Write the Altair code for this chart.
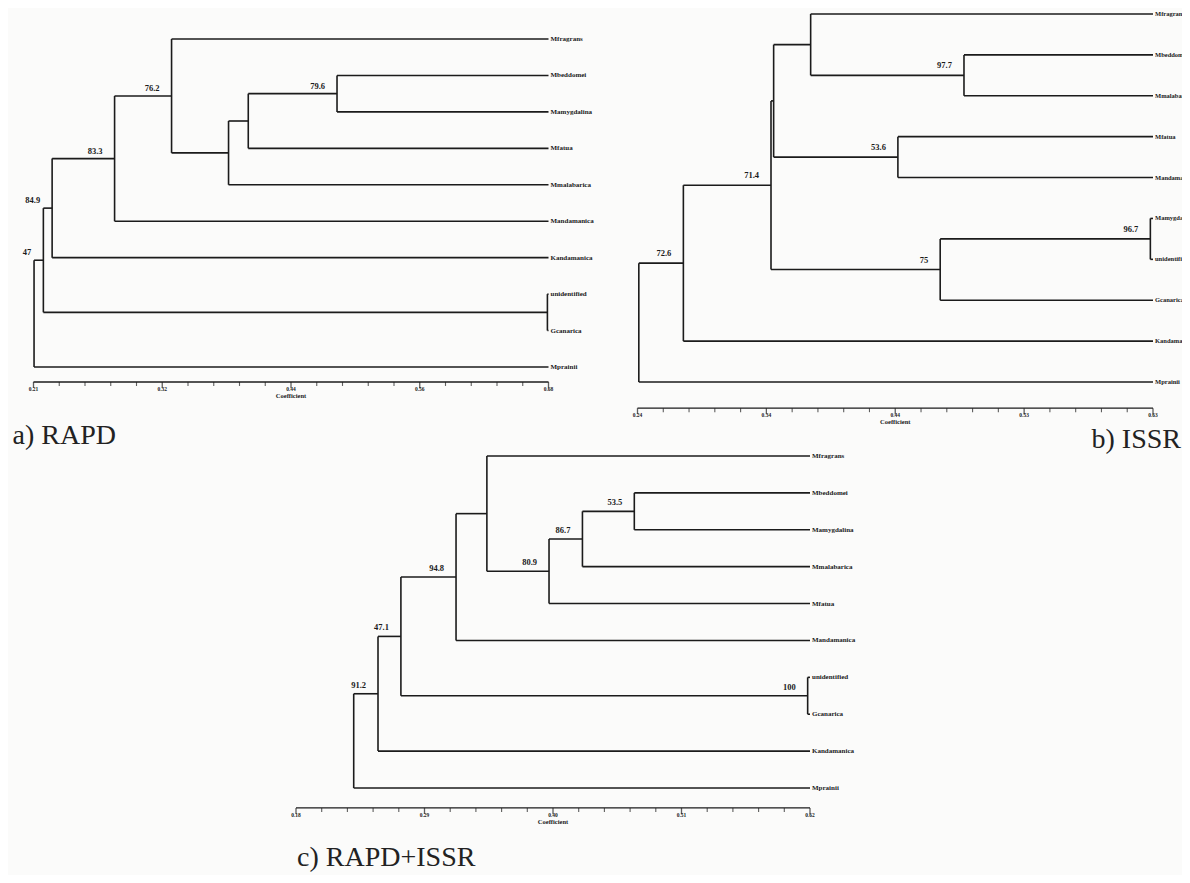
import altair as alt
import pandas as pd
import numpy as np

# ---------------- a) RAPD ----------------
a_leaves = ["Mfragrans", "Mbeddomei", "Mamygdalina", "Mfatua", "Mmalabarica",
            "Mandamanica", "Kandamanica", "unidentified", "Gcanarica", "Mprainii"]
a_left = ["Mbeddomei", "n1", "n2", "Mfragrans", "n4", "n5", "unidentified", "n6", "n8"]
a_right = ["Mamygdalina", "Mfatua", "Mmalabarica", "n3", "Mandamanica", "Kandamanica",
           "Gcanarica", "n7", "Mprainii"]
a_coef = [0.487, 0.406, 0.388, 0.336, 0.284, 0.227, 0.679, 0.219, 0.2105]
a_boot = ["79.6", "", "", "76.2", "83.3", "84.9", "", "47", ""]
a_ticks = [0.21, 0.3275, 0.445, 0.5625, 0.68]
a_tick_labels = ["0.21", "0.32", "0.44", "0.56", "0.68"]

# ---------------- b) ISSR ----------------
b_leaves = ["Mfragrans", "Mbeddomei", "Mmalabarica", "Mfatua", "Mandamanica",
            "Mamygdalina", "unidentified", "Gcanarica", "Kandamanica", "Mprainii"]
b_left = ["Mbeddomei", "Mfragrans", "Mfatua", "n2", "Mamygdalina", "n5", "n4", "n7", "n8"]
b_right = ["Mmalabarica", "n1", "Mandamanica", "n3", "unidentified", "Gcanarica", "n6",
           "Kandamanica", "Mprainii"]
b_coef = [0.487, 0.371, 0.437, 0.343, 0.628, 0.469, 0.341, 0.2747, 0.241]
b_boot = ["97.7", "", "53.6", "", "96.7", "75", "71.4", "72.6", ""]
b_ticks = [0.24, 0.3375, 0.435, 0.5325, 0.63]
b_tick_labels = ["0.24", "0.34", "0.44", "0.53", "0.63"]

# ---------------- c) RAPD+ISSR ----------------
c_leaves = ["Mfragrans", "Mbeddomei", "Mamygdalina", "Mmalabarica", "Mfatua",
            "Mandamanica", "unidentified", "Gcanarica", "Kandamanica", "Mprainii"]
c_left = ["Mbeddomei", "n1", "n2", "Mfragrans", "n4", "unidentified", "n5", "n7", "n8"]
c_right = ["Mamygdalina", "Mmalabarica", "Mfatua", "n3", "Mandamanica", "Gcanarica", "n6",
           "Kandamanica", "Mprainii"]
c_coef = [0.4696, 0.4252, 0.3966, 0.3434, 0.317, 0.618, 0.2698, 0.2502, 0.2294]
c_boot = ["53.5", "86.7", "80.9", "", "94.8", "100", "47.1", "91.2", ""]
c_ticks = [0.18, 0.29, 0.40, 0.51, 0.62]
c_tick_labels = ["0.18", "0.29", "0.40", "0.51", "0.62"]

captions = ["a) RAPD", "b) ISSR", "c) RAPD+ISSR"]
axis_title = "Coefficient"

LINE = "#1b1b1b"
SERIF = "Liberation Serif"


def panel(leaves, left, right, coef, boot, ticks, tick_labels, caption,
          xrange, yrange, axis_level, boot_dy, leaf_size, cap_anchor, cap_dx, cap_dy, cap_align):
    xmax = ticks[-1]
    pos = {name: (xmax, float(i)) for i, name in enumerate(leaves)}
    segs, nodes = [], []
    for k, (l, r, c, b) in enumerate(zip(left, right, coef, boot)):
        xl, yl = pos[l]
        xr, yr = pos[r]
        ym = (yl + yr) / 2
        pos[f"n{k + 1}"] = (c, ym)
        segs.append(dict(x=c, x2=c, y=yl, y2=yr))
        segs.append(dict(x=c, x2=xl, y=yl, y2=yl))
        segs.append(dict(x=c, x2=xr, y=yr, y2=yr))
        nodes.append(dict(x=c, y=ym, label=b))
    seg_df = pd.DataFrame(segs)
    node_df = pd.DataFrame(nodes)
    leaf_df = pd.DataFrame(dict(x=[xmax] * len(leaves), y=list(range(len(leaves))), label=leaves))
    maj_df = pd.DataFrame(dict(x=ticks, y=[axis_level] * len(ticks), label=tick_labels))
    minor = []
    for t0, t1 in zip(ticks[:-1], ticks[1:]):
        minor += list(np.linspace(t0, t1, 6)[1:-1])
    min_df = pd.DataFrame(dict(x=minor, y=[axis_level] * len(minor)))
    axl_df = pd.DataFrame(dict(x=[ticks[0]], x2=[ticks[-1]], y=[axis_level], y2=[axis_level]))
    mid = ticks[len(ticks) // 2]
    title_df = pd.DataFrame(dict(x=[mid], y=[axis_level], label=[axis_title]))
    cap_df = pd.DataFrame(dict(x=[cap_anchor], y=[axis_level], label=[caption]))

    xs = alt.Scale(domain=[ticks[0], ticks[-1]], range=xrange, nice=False, zero=False)
    ys = alt.Scale(domain=[0, len(leaves) - 1], range=yrange, nice=False, zero=False)
    X = alt.X("x:Q", scale=xs, axis=None)
    Y = alt.Y("y:Q", scale=ys, axis=None)

    rules = alt.Chart(seg_df).mark_rule(color=LINE, strokeWidth=1.6).encode(
        x=X, x2="x2:Q", y=Y, y2="y2:Q")
    leaf_txt = alt.Chart(leaf_df).mark_text(
        align="left", baseline="middle", dx=2, font=SERIF, fontSize=leaf_size,
        fontWeight="bold", color="#1a1a1a").encode(x=X, y=Y, text="label:N")
    boot_txt = alt.Chart(node_df).mark_text(
        align="right", baseline="alphabetic", dx=-12, dy=boot_dy, font=SERIF, fontSize=8.5,
        fontWeight="bold", color="#1a1a1a").encode(x=X, y=Y, text="label:N")
    axis_line = alt.Chart(axl_df).mark_rule(color=LINE, strokeWidth=1.4).encode(
        x=X, x2="x2:Q", y=Y, y2="y2:Q")
    maj_ticks = alt.Chart(maj_df).mark_tick(
        orient="vertical", size=6, thickness=1.3, yOffset=3, color=LINE).encode(x=X, y=Y)
    min_ticks = alt.Chart(min_df).mark_tick(
        orient="vertical", size=4, thickness=1.1, yOffset=2, color=LINE).encode(x=X, y=Y)
    tick_txt = alt.Chart(maj_df).mark_text(
        baseline="top", dy=5, font=SERIF, fontSize=5.5, fontWeight="bold",
        color="#1a1a1a").encode(x=X, y=Y, text="label:N")
    title_txt = alt.Chart(title_df).mark_text(
        baseline="top", dy=11, font=SERIF, fontSize=6.5, fontWeight="bold",
        color="#1a1a1a").encode(x=X, y=Y, text="label:N")
    cap_txt = alt.Chart(cap_df).mark_text(
        align=cap_align, baseline="middle", dx=cap_dx, dy=cap_dy, font=SERIF,
        fontSize=28, color="#222222").encode(x=X, y=Y, text="label:N")
    return alt.layer(rules, leaf_txt, boot_txt, axis_line, maj_ticks, min_ticks,
                     tick_txt, title_txt, cap_txt)


pa = panel(a_leaves, a_left, a_right, a_coef, a_boot, a_ticks, a_tick_labels, captions[0],
           [25.5, 540.5], [31, 359], 9.41, -5, 7, a_ticks[0], -21, 54, "left")
pb = panel(b_leaves, b_left, b_right, b_coef, b_boot, b_ticks, b_tick_labels, captions[1],
           [629.5, 1145], [6, 374], 9.64, -7, 6.5, b_ticks[-1], 28, 32, "right")
pc = panel(c_leaves, c_left, c_right, c_coef, c_boot, c_ticks, c_tick_labels, captions[2],
           [288, 802], [448, 780], 9.54, -6, 7, c_ticks[0], 1, 50, "left")

chart = alt.layer(pa, pb, pc).resolve_scale(x="independent", y="independent").properties(
    width=1174, height=867, autosize=alt.AutoSizeParams(type="none"), padding=0,
    background="#fbfbfa"
).configure_view(stroke=None)

chart.save("out.html", embed_options={"renderer": "svg", "actions": False})
